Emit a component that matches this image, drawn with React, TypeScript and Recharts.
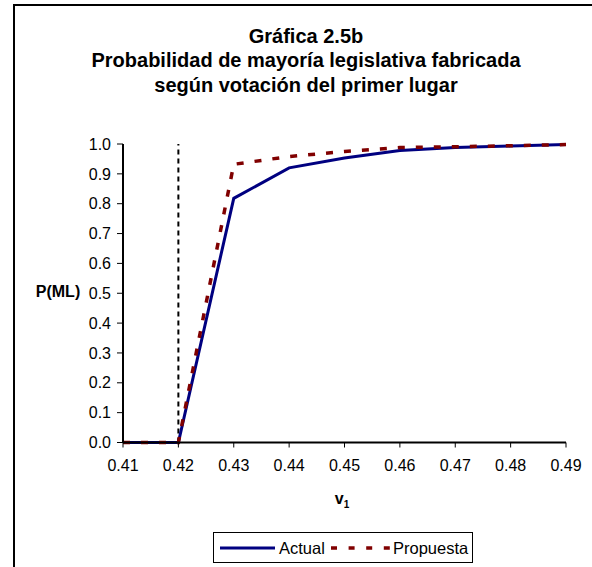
import React from 'react';
import { LineChart, Line, XAxis, YAxis, ReferenceLine } from 'recharts';

const xValues = [0.41, 0.42, 0.43, 0.44, 0.45, 0.46, 0.47, 0.48, 0.49];
const actual = [0, 0, 0.818, 0.92, 0.953, 0.978, 0.988, 0.993, 0.998];
const propuesta = [0, 0, 0.932, 0.958, 0.975, 0.988, 0.991, 0.994, 0.998];
const xTicks = [0.41, 0.42, 0.43, 0.44, 0.45, 0.46, 0.47, 0.48, 0.49];
const yTicks = [0, 0.1, 0.2, 0.3, 0.4, 0.5, 0.6, 0.7, 0.8, 0.9, 1.0];
const thresholdX = 0.42;
const titleLines = [
  'Gráfica 2.5b',
  'Probabilidad de mayoría legislativa fabricada',
  'según votación del primer lugar',
];
const seriesNames = ['Actual', 'Propuesta'];

const data = xValues.map((x, i) => ({ x, actual: actual[i], propuesta: propuesta[i] }));

const FONT = '"Liberation Sans", Arial, Helvetica, sans-serif';
const BLUE = '#000080';
const RED = '#800000';

export default function App() {
  return (
    <div
      style={{
        position: 'fixed',
        left: 0,
        top: 0,
        width: 592,
        height: 567,
        overflow: 'hidden',
        background: '#fff',
        fontFamily: FONT,
      }}
    >
      <div
        style={{
          position: 'absolute',
          left: 13,
          top: 4,
          width: 700,
          height: 700,
          border: '2px solid #000',
        }}
      />
      <div
        style={{
          position: 'absolute',
          left: 0,
          width: 612,
          top: 23.5,
          textAlign: 'center',
          fontWeight: 'bold',
          fontSize: 20,
          lineHeight: '24.5px',
          color: '#000',
        }}
      >
        {titleLines.map((t) => (
          <div key={t}>{t}</div>
        ))}
      </div>
      <div
        style={{
          position: 'absolute',
          left: 28,
          width: 60,
          top: 282,
          textAlign: 'center',
          fontWeight: 'bold',
          fontSize: 16,
          lineHeight: '20px',
        }}
      >
        P(ML)
      </div>
      <div
        style={{
          position: 'absolute',
          left: 312,
          width: 60,
          top: 489,
          textAlign: 'center',
          fontWeight: 'bold',
          fontSize: 16,
          lineHeight: '20px',
        }}
      >
        v<sub style={{ fontSize: 10 }}>1</sub>
      </div>
      <LineChart
        width={592}
        height={567}
        data={data}
        margin={{ top: 144, right: 26, bottom: 94.5, left: 63 }}
        style={{ position: 'absolute', left: 0, top: 0 }}
      >
        <XAxis
          xAxisId="top"
          orientation="top"
          type="number"
          dataKey="x"
          domain={[0.41, 0.49]}
          height={0}
          tick={false}
          tickLine={false}
          axisLine={{ stroke: '#808080', strokeWidth: 1.5 }}
        />
        <YAxis
          yAxisId="right"
          orientation="right"
          type="number"
          domain={[0, 1]}
          width={0}
          tick={false}
          tickLine={false}
          axisLine={{ stroke: '#808080', strokeWidth: 1.5 }}
        />
        <XAxis
          dataKey="x"
          type="number"
          domain={[0.41, 0.49]}
          ticks={xTicks}
          tickFormatter={(v: number) => v.toFixed(2)}
          interval={0}
          height={30}
          tickSize={5}
          tickMargin={12.5}
          axisLine={{ stroke: '#000', strokeWidth: 2 }}
          tickLine={{ stroke: '#000', strokeWidth: 1 }}
          tick={{ fill: '#000', fontSize: 16, fontFamily: FONT }}
        />
        <YAxis
          type="number"
          domain={[0, 1]}
          ticks={yTicks}
          tickFormatter={(v: number) => v.toFixed(1)}
          interval={0}
          width={60}
          tickSize={6}
          tickMargin={6}
          axisLine={{ stroke: '#000', strokeWidth: 2 }}
          tickLine={{ stroke: '#000', strokeWidth: 1 }}
          tick={{ fill: '#000', fontSize: 16, fontFamily: FONT }}
        />
        <ReferenceLine x={thresholdX} stroke="#000" strokeWidth={2} strokeDasharray="5 4" />
        <Line
          type="linear"
          dataKey="actual"
          name={seriesNames[0]}
          stroke={BLUE}
          strokeWidth={3}
          dot={false}
          isAnimationActive={false}
        />
        <Line
          type="linear"
          dataKey="propuesta"
          name={seriesNames[1]}
          stroke={RED}
          strokeWidth={3.5}
          strokeDasharray="7 11"
          dot={false}
          isAnimationActive={false}
        />
      </LineChart>
      <div
        style={{
          position: 'absolute',
          left: 213,
          top: 532,
          width: 258,
          height: 29,
          border: '1px solid #000',
          background: '#fff',
        }}
      >
        <svg width={258} height={29} style={{ position: 'absolute', left: 0, top: 0 }}>
          <line x1={6} y1={15} x2={61} y2={15} stroke={BLUE} strokeWidth={3} />
          <text x={65} y={20.5} fontSize={16.5} fontFamily={FONT} fill="#000">
            {seriesNames[0]}
          </text>
          <line x1={117} y1={15} x2={176} y2={15} stroke={RED} strokeWidth={3.5} strokeDasharray="6 11.6" />
          <text x={179} y={20.5} fontSize={16.5} fontFamily={FONT} fill="#000">
            {seriesNames[1]}
          </text>
        </svg>
      </div>
    </div>
  );
}
